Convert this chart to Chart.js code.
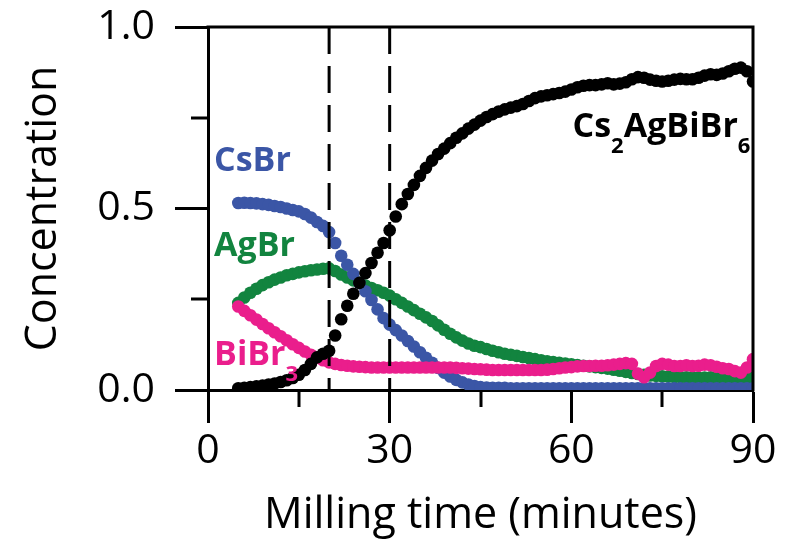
<!DOCTYPE html>
<html>
<head>
<meta charset="utf-8">
<script src="https://cdn.jsdelivr.net/npm/chart.js@4.4.1/dist/chart.umd.min.js"></script>
<style>
    html, body { margin: 0; padding: 0; background: #fff; }
    #wrap { width: 789px; height: 542px; }
</style>
</head>
<body>
<div id="wrap"><canvas id="chart" width="789" height="542"></canvas></div>
<script>
// milling time (minutes)
const times = [5, 6, 7, 8, 9, 10, 11, 12, 13, 14, 15, 16, 17, 18, 19, 20, 21, 22, 23, 24,
    25, 26, 27, 28, 29, 30, 31, 32, 33, 34, 35, 36, 37, 38, 39, 40, 41, 42, 43, 44,
    45, 46, 47, 48, 49, 50, 51, 52, 53, 54, 55, 56, 57, 58, 59, 60, 61, 62, 63, 64,
    65, 66, 67, 68, 69, 70, 71, 72, 73, 74, 75, 76, 77, 78, 79, 80, 81, 82, 83, 84,
    85, 86, 87, 88, 89, 90];

const cs2AgBiBr6 = [0.005, 0.006, 0.008, 0.010, 0.012, 0.015, 0.018, 0.022, 0.027, 0.033,
    0.042, 0.055, 0.072, 0.090, 0.100, 0.108, 0.150, 0.195, 0.232, 0.265,
    0.295, 0.322, 0.350, 0.378, 0.405, 0.440, 0.478, 0.512, 0.540, 0.565,
    0.590, 0.612, 0.632, 0.650, 0.665, 0.680, 0.695, 0.707, 0.720, 0.731,
    0.742, 0.752, 0.760, 0.767, 0.773, 0.778, 0.782, 0.788, 0.796, 0.804,
    0.809, 0.812, 0.815, 0.818, 0.822, 0.828, 0.834, 0.838, 0.840, 0.840,
    0.842, 0.845, 0.842, 0.844, 0.848, 0.856, 0.862, 0.860, 0.855, 0.852,
    0.850, 0.852, 0.855, 0.857, 0.856, 0.856, 0.860, 0.866, 0.870, 0.868,
    0.872, 0.878, 0.885, 0.888, 0.878, 0.850];

const csBr = [0.515, 0.516, 0.515, 0.514, 0.512, 0.510, 0.507, 0.504, 0.500, 0.496,
    0.492, 0.485, 0.475, 0.463, 0.452, 0.435, 0.405, 0.370, 0.345, 0.320,
    0.295, 0.272, 0.248, 0.222, 0.198, 0.180, 0.165, 0.150, 0.135, 0.120,
    0.104, 0.089, 0.075, 0.061, 0.048, 0.037, 0.028, 0.021, 0.015, 0.011,
    0.008, 0.007, 0.006, 0.006, 0.006, 0.005, 0.005, 0.005, 0.005, 0.005,
    0.005, 0.005, 0.005, 0.005, 0.005, 0.005, 0.005, 0.005, 0.005, 0.005,
    0.005, 0.005, 0.005, 0.005, 0.005, 0.005, 0.005, 0.005, 0.005, 0.005,
    0.005, 0.005, 0.005, 0.005, 0.005, 0.005, 0.005, 0.005, 0.005, 0.005,
    0.005, 0.005, 0.005, 0.005, 0.005, 0.005];

const agBr = [0.240, 0.255, 0.268, 0.279, 0.289, 0.297, 0.304, 0.310, 0.316, 0.320,
    0.324, 0.327, 0.330, 0.332, 0.334, 0.335, 0.328, 0.318, 0.310, 0.302,
    0.295, 0.288, 0.281, 0.275, 0.268, 0.260, 0.250, 0.240, 0.230, 0.220,
    0.210, 0.200, 0.190, 0.178, 0.166, 0.155, 0.145, 0.136, 0.128, 0.122,
    0.118, 0.113, 0.108, 0.104, 0.100, 0.097, 0.094, 0.091, 0.088, 0.085,
    0.082, 0.079, 0.077, 0.075, 0.073, 0.071, 0.069, 0.067, 0.065, 0.063,
    0.061, 0.059, 0.056, 0.053, 0.050, 0.047, 0.044, 0.042, 0.040, 0.039,
    0.038, 0.037, 0.036, 0.036, 0.035, 0.035, 0.034, 0.034, 0.035, 0.034,
    0.033, 0.034, 0.033, 0.033, 0.034, 0.035];

const biBr3 = [0.230, 0.218, 0.206, 0.194, 0.182, 0.170, 0.159, 0.148, 0.137, 0.126,
    0.116, 0.106, 0.097, 0.089, 0.082, 0.076, 0.072, 0.069, 0.067, 0.065,
    0.064, 0.063, 0.062, 0.062, 0.062, 0.062, 0.062, 0.062, 0.062, 0.062,
    0.062, 0.062, 0.062, 0.062, 0.062, 0.062, 0.061, 0.060, 0.059, 0.058,
    0.057, 0.056, 0.055, 0.055, 0.055, 0.055, 0.055, 0.055, 0.055, 0.055,
    0.055, 0.056, 0.058, 0.060, 0.062, 0.063, 0.065, 0.066, 0.066, 0.067,
    0.067, 0.068, 0.070, 0.072, 0.074, 0.072, 0.045, 0.035, 0.048, 0.066,
    0.072, 0.070, 0.066, 0.066, 0.068, 0.066, 0.067, 0.070, 0.068, 0.064,
    0.060, 0.058, 0.052, 0.048, 0.062, 0.085];

// stage boundaries (minutes)
const markers = [20, 30];

const xTicks = [0, 30, 60, 90];
const xMinor = [15, 45, 75];
const yMinor = [0.25, 0.75];

const COLORS = {
    perovskite: '#000000',
    csbr: '#3b56a6',
    agbr: '#12843f',
    bibr: '#ea1e8c'
};

function toPoints(values) {
    return values.map((v, i) => ({x: times[i], y: v}));
}

function dots(label, values, color, order) {
    return {
        label: label,
        data: toPoints(values),
        backgroundColor: color,
        borderColor: color,
        borderWidth: 0,
        pointRadius: 6.3,
        pointHoverRadius: 6.3,
        showLine: false,
        order: order
    };
}

function markerLine(t) {
    return {
        type: 'line',
        data: [{x: t, y: 1}, {x: t, y: 0}],
        borderColor: '#000',
        borderWidth: 3,
        borderDash: [27, 12],
        pointRadius: 0,
        fill: false,
        order: 0
    };
}

// species names drawn inside the plot, [text, isSubscript]
const speciesLabels = [
    {parts: [['CsBr', 0]], x: 1.0, y: 0.603, color: COLORS.csbr},
    {parts: [['AgBr', 0]], x: 1.0, y: 0.369, color: COLORS.agbr},
    {parts: [['BiBr', 0], ['3', 1]], x: 1.0, y: 0.069, color: COLORS.bibr},
    {parts: [['Cs', 0], ['2', 1], ['AgBiBr', 0], ['6', 1]], x: 60.2, y: 0.697, color: COLORS.perovskite}
];

const decorations = {
    id: 'decorations',
    afterDraw(chart) {
        const {ctx, chartArea: a, scales: {x, y}} = chart;
        ctx.save();
        ctx.strokeStyle = '#000';
        ctx.lineWidth = 3;
        ctx.lineCap = 'square';
        ctx.beginPath();
        ctx.moveTo(a.left, a.top);
        ctx.lineTo(a.right, a.top);
        ctx.lineTo(a.right, a.bottom);
        ctx.stroke();

        ctx.lineCap = 'butt';
        ctx.beginPath();
        xMinor.forEach(v => {
            const px = Math.round(x.getPixelForValue(v));
            ctx.moveTo(px, a.bottom);
            ctx.lineTo(px, a.bottom + 17);
        });
        yMinor.forEach(v => {
            const py = Math.round(y.getPixelForValue(v));
            ctx.moveTo(a.left, py);
            ctx.lineTo(a.left - 17, py);
        });
        ctx.stroke();

        ctx.textBaseline = 'alphabetic';
        ctx.textAlign = 'left';
        speciesLabels.forEach(lbl => {
            let px = x.getPixelForValue(lbl.x);
            const py = y.getPixelForValue(lbl.y);
            ctx.fillStyle = lbl.color;
            lbl.parts.forEach(([txt, sub]) => {
                ctx.font = sub ? 'bold 22px "Open Sans"' : 'bold 34px "Open Sans"';
                ctx.fillText(txt, px, sub ? py + 16 : py);
                px += ctx.measureText(txt).width;
            });
        });
        ctx.restore();
    }
};

const tickFont = {family: '"Open Sans"', size: 41};
const titleFont = {family: '"Open Sans"', size: 43};

new Chart(document.getElementById('chart'), {
    type: 'scatter',
    data: {
        datasets: [
            dots('Cs2AgBiBr6', cs2AgBiBr6, COLORS.perovskite, 1),
            dots('BiBr3', biBr3, COLORS.bibr, 2),
            dots('CsBr', csBr, COLORS.csbr, 3),
            dots('AgBr', agBr, COLORS.agbr, 4),
            markerLine(markers[0]),
            markerLine(markers[1])
        ]
    },
    options: {
        responsive: false,
        devicePixelRatio: 1,
        animation: false,
        layout: {padding: {top: 27, right: 36, left: 0, bottom: 0}},
        plugins: {legend: {display: false}, tooltip: {enabled: false}},
        scales: {
            x: {
                type: 'linear',
                min: 0,
                max: 90,
                afterFit: s => { s.height = 152; s.paddingLeft = 0; s.paddingRight = 0; },
                afterBuildTicks: s => { s.ticks = xTicks.map(v => ({value: v})); },
                ticks: {color: '#000', font: tickFont, padding: 4, maxRotation: 0, autoSkip: false},
                grid: {drawOnChartArea: false, drawTicks: true, tickLength: 33, tickWidth: 3, tickColor: '#000'},
                border: {display: true, color: '#000', width: 3},
                title: {display: true, text: 'Milling time (minutes)', color: '#000', font: titleFont, padding: {top: 0, bottom: 0}}
            },
            y: {
                min: 0,
                max: 1,
                afterFit: s => { s.width = 208; s.paddingTop = 0; s.paddingBottom = 0; },
                ticks: {stepSize: 0.5, color: '#000', font: tickFont, padding: 20, callback: v => v.toFixed(1)},
                grid: {drawOnChartArea: false, drawTicks: true, tickLength: 33, tickWidth: 3, tickColor: '#000'},
                border: {display: true, color: '#000', width: 3},
                title: {display: true, text: 'Concentration', color: '#000', font: titleFont, padding: {top: 18, bottom: 0}}
            }
        }
    },
    plugins: [decorations]
});
</script>
</body>
</html>
